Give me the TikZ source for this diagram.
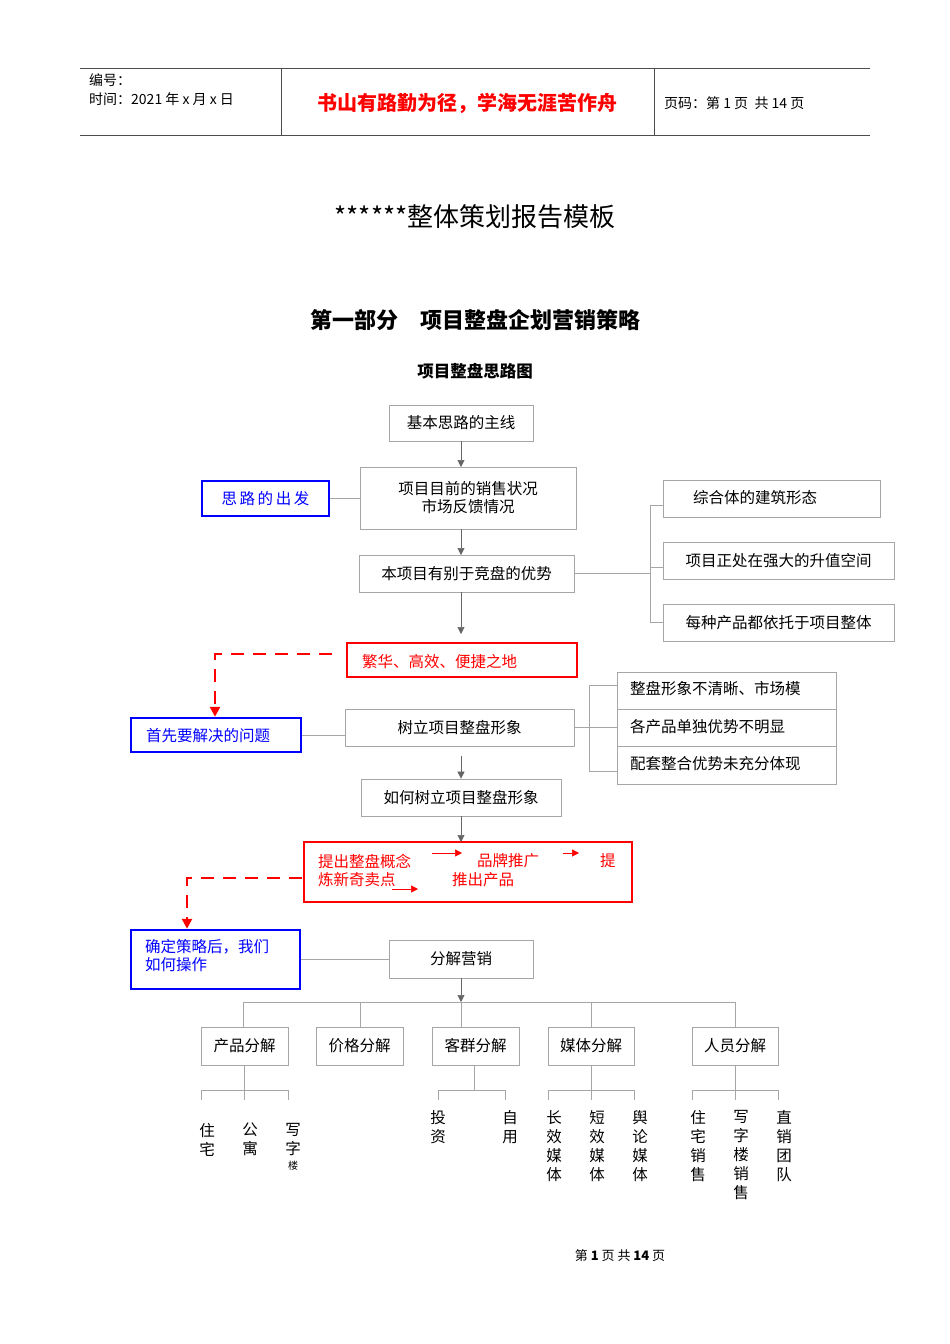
\documentclass[tikz,border=0pt]{standalone}
\usepackage{fontspec}
\setmainfont{Noto Sans CJK SC}
\usetikzlibrary{arrows.meta}
\begin{document}
\begin{tikzpicture}[x=1pt,y=-1pt,
  gbox/.style={draw=black!35,line width=0.7pt,inner sep=0,font=\fontsize{15.5}{18}\selectfont},
  bbox/.style={draw=blue,line width=2.5pt,inner sep=0,text=blue,font=\fontsize{15.5}{18}\selectfont},
  rbox/.style={draw=red,line width=2.5pt,inner sep=0,text=red,font=\fontsize{15.5}{18}\selectfont},
  gl/.style={draw=black!35,line width=0.7pt},
  arr/.style={-{Triangle[length=7pt,width=7pt]},line width=0.6pt,black!60},
  rdash/.style={red,line width=2.5pt,dash pattern=on 13pt off 9pt,-{Triangle[length=10pt,width=10pt]}},
  vt/.style={font=\fontsize{15.5}{19}\selectfont,align=center,anchor=north,inner sep=0},
  lt/.style={anchor=west,inner sep=0,font=\fontsize{15.5}{18}\selectfont}]
\useasboundingbox[fill=white] (0,0) rectangle (950,1344);
% header
\draw[black!70,line width=0.7pt] (80,68)--(870,68) (80,135)--(870,135) (281,68)--(281,135) (654,68)--(654,135);
\node[lt,font=\fontsize{14}{16}\selectfont] (h1) at (89,80) {编号：};
\node[lt,font=\fontsize{14}{16}\selectfont] (h2) at (89,99) {时间：2021 年 x 月 x 日};
\node[inner sep=0,text=red,font=\fontsize{20}{22}\selectfont\bfseries] (h3) at (467,103) {书山有路勤为径，学海无涯苦作舟};
\node[lt,font=\fontsize{14}{16}\selectfont] (h4) at (664,103) {页码：第 1 页 \ 共 14 页};
\node[inner sep=0,font=\fontsize{26}{28}\selectfont] (t1) at (475,217) {******整体策划报告模板};
\node[inner sep=0,font=\fontsize{22}{24}\selectfont\bfseries] (t2) at (475,320) {第一部分\quad 项目整盘企划营销策略};
\node[inner sep=0,font=\fontsize{16.5}{18}\selectfont\bfseries] (t3) at (475,371) {项目整盘思路图};
% top part
\node[gbox,minimum width=144pt,minimum height=36pt] (A) at (461,423) {基本思路的主线};
\node[gbox,minimum width=216pt,minimum height=62pt,align=center] (B) at (468,498) {项目目前的销售状况\\市场反馈情况};
\node[bbox,minimum width=127pt,minimum height=35pt] (BL1) at (265.5,498.5) {思\,路\,的\,出\,发};
\node[gbox,minimum width=215pt,minimum height=37pt] (C) at (466.5,573.5) {本项目有别于竞盘的优势};
\node[gbox,minimum width=217pt,minimum height=37pt] (R1) at (771.5,498.5) {};
\node[lt] at (693,498) {综合体的建筑形态};
\node[gbox,minimum width=231pt,minimum height=37pt] (R2) at (778.5,560.5) {项目正处在强大的升值空间};
\node[gbox,minimum width=231pt,minimum height=37pt] (R3) at (778.5,622.5) {每种产品都依托于项目整体};
\draw[gl] (BL1.east)--(B.west|-BL1.east);
\draw[gl] (C.east)--(650,573.5) (650,505)--(650,622) (650,505)--(663,505) (650,567)--(663,567) (650,622)--(663,622);
\node[rbox,minimum width=230pt,minimum height=34pt] (D) at (462,660) {};
\node[lt,text=red] (Dt) at (362,662) {繁华、高效、便捷之地};
\draw[arr] (461,441)--(461,467);
\draw[arr] (461,529)--(461,555);
\draw[arr] (461,592)--(461,634);
\coordinate (d1) at (332,654);
\node[bbox,minimum width=170pt,minimum height=34pt] (BL2) at (216,735) {};
\node[lt,text=blue] at (146,736) {首先要解决的问题};
\draw[rdash] (d1)--(215,654)--(BL2.north-|215,0);
\node[gbox,minimum width=229pt,minimum height=37pt] (E) at (459.5,727.5) {树立项目整盘形象};
\draw[gl] (BL2.east)--(E.west|-BL2.east);
\node[gbox,minimum width=219pt,minimum height=37pt,anchor=north west] (S1) at (617,672) {};
\node[lt] at (630,689) {整盘形象不清晰、市场模};
\node[gbox,minimum width=219pt,minimum height=37pt,anchor=north west] (S2) at (617,709) {};
\node[lt] at (630,727) {各产品单独优势不明显};
\node[gbox,minimum width=219pt,minimum height=38pt,anchor=north west] (S3) at (617,746) {};
\node[lt] at (630,764) {配套整合优势未充分体现};
\draw[gl] (E.east)--(617,727.5) (589,685)--(589,771) (589,685)--(617,685) (589,771)--(617,771);
\node[gbox,minimum width=200pt,minimum height=37pt] (F) at (461,797.5) {如何树立项目整盘形象};
\draw[arr] (461,756)--(F.north);
\node[rbox,minimum width=328pt,minimum height=60pt] (G) at (468,872) {};
\draw[arr] (F.south)--(461,842);
\node[lt,text=red] at (318,861) {提出整盘概念};
\node[lt,text=red] at (318,880) {炼新奇卖点};
\node[lt,text=red] at (477,861) {品牌推广};
\node[lt,text=red] at (452,880) {推出产品};
\node[lt,text=red] at (600,861) {提};
\draw[red,line width=0.5pt,-{Triangle[length=7pt,width=7pt]}] (432,853)--(462,853);
\draw[red,line width=0.5pt,-{Triangle[length=7pt,width=7pt]}] (563,853)--(579,853);
\draw[red,line width=0.5pt,-{Triangle[length=7pt,width=7pt]}] (392,889)--(418,889);
\coordinate (d2) at (302,878);
\node[bbox,minimum width=169pt,minimum height=59pt] (BL3) at (215.5,959.5) {};
\node[lt,text=blue,align=left,anchor=north west] at (145,939) {确定策略后，我们\\如何操作};
\draw[rdash] (d2)--(187,878)--(BL3.north-|187,0);
\node[gbox,minimum width=144pt,minimum height=38pt] (H) at (461,959) {分解营销};
\draw[gl] (BL3.east)--(H.west|-BL3.east);
\draw[arr] (H.south)--(461,1002);
% level boxes
\node[gbox,minimum width=87pt,minimum height=38pt] (P1) at (244.5,1046) {产品分解};
\node[gbox,minimum width=87pt,minimum height=38pt] (P2) at (359.5,1046) {价格分解};
\node[gbox,minimum width=87pt,minimum height=38pt] (P3) at (475.5,1046) {客群分解};
\node[gbox,minimum width=86pt,minimum height=38pt] (P4) at (591,1046) {媒体分解};
\node[gbox,minimum width=86pt,minimum height=38pt] (P5) at (735,1046) {人员分解};
\draw[gl] (243,1002)--(735,1002);
\foreach \x in {243,360,461,591,735}{\draw[gl] (\x,1002)--(\x,1027);}
% sub brackets
\draw[gl] (244,1065)--(244,1090) (201,1100)--(201,1090)--(288,1090)--(288,1100) (244,1090)--(244,1100);
\draw[gl] (474,1065)--(474,1090) (438,1100)--(438,1090)--(505,1090)--(505,1100);
\draw[gl] (591,1065)--(591,1090) (548,1100)--(548,1090)--(634,1090)--(634,1100) (591,1090)--(591,1100);
\draw[gl] (735,1065)--(735,1090) (692,1100)--(692,1090)--(778,1090)--(778,1100) (735,1090)--(735,1100);
% leaves
\node[vt] (L1) at (207,1123) {住\\宅};
\node[vt] (L2) at (250,1123) {公\\寓};
\node[vt] (L3) at (293,1123) {写\\字\\[-4pt]{\fontsize{10}{10}\selectfont 楼}};
\node[vt] (L4) at (438,1110) {投\\资};
\node[vt] (L5) at (510,1110) {自\\用};
\node[vt] (L6) at (554,1110) {长\\效\\媒\\体};
\node[vt] (L7) at (597,1110) {短\\效\\媒\\体};
\node[vt] (L8) at (640,1110) {舆\\论\\媒\\体};
\node[vt] (L9) at (698,1110) {住\\宅\\销\\售};
\node[vt] (L10) at (741,1110) {写\\字\\楼\\销\\售};
\node[vt] (L11) at (784,1110) {直\\销\\团\\队};
\node[inner sep=0,font=\fontsize{13}{15}\selectfont] (ft) at (620,1256) {第 \textbf{1} 页 共 \textbf{14} 页};
\end{tikzpicture}
\end{document}
